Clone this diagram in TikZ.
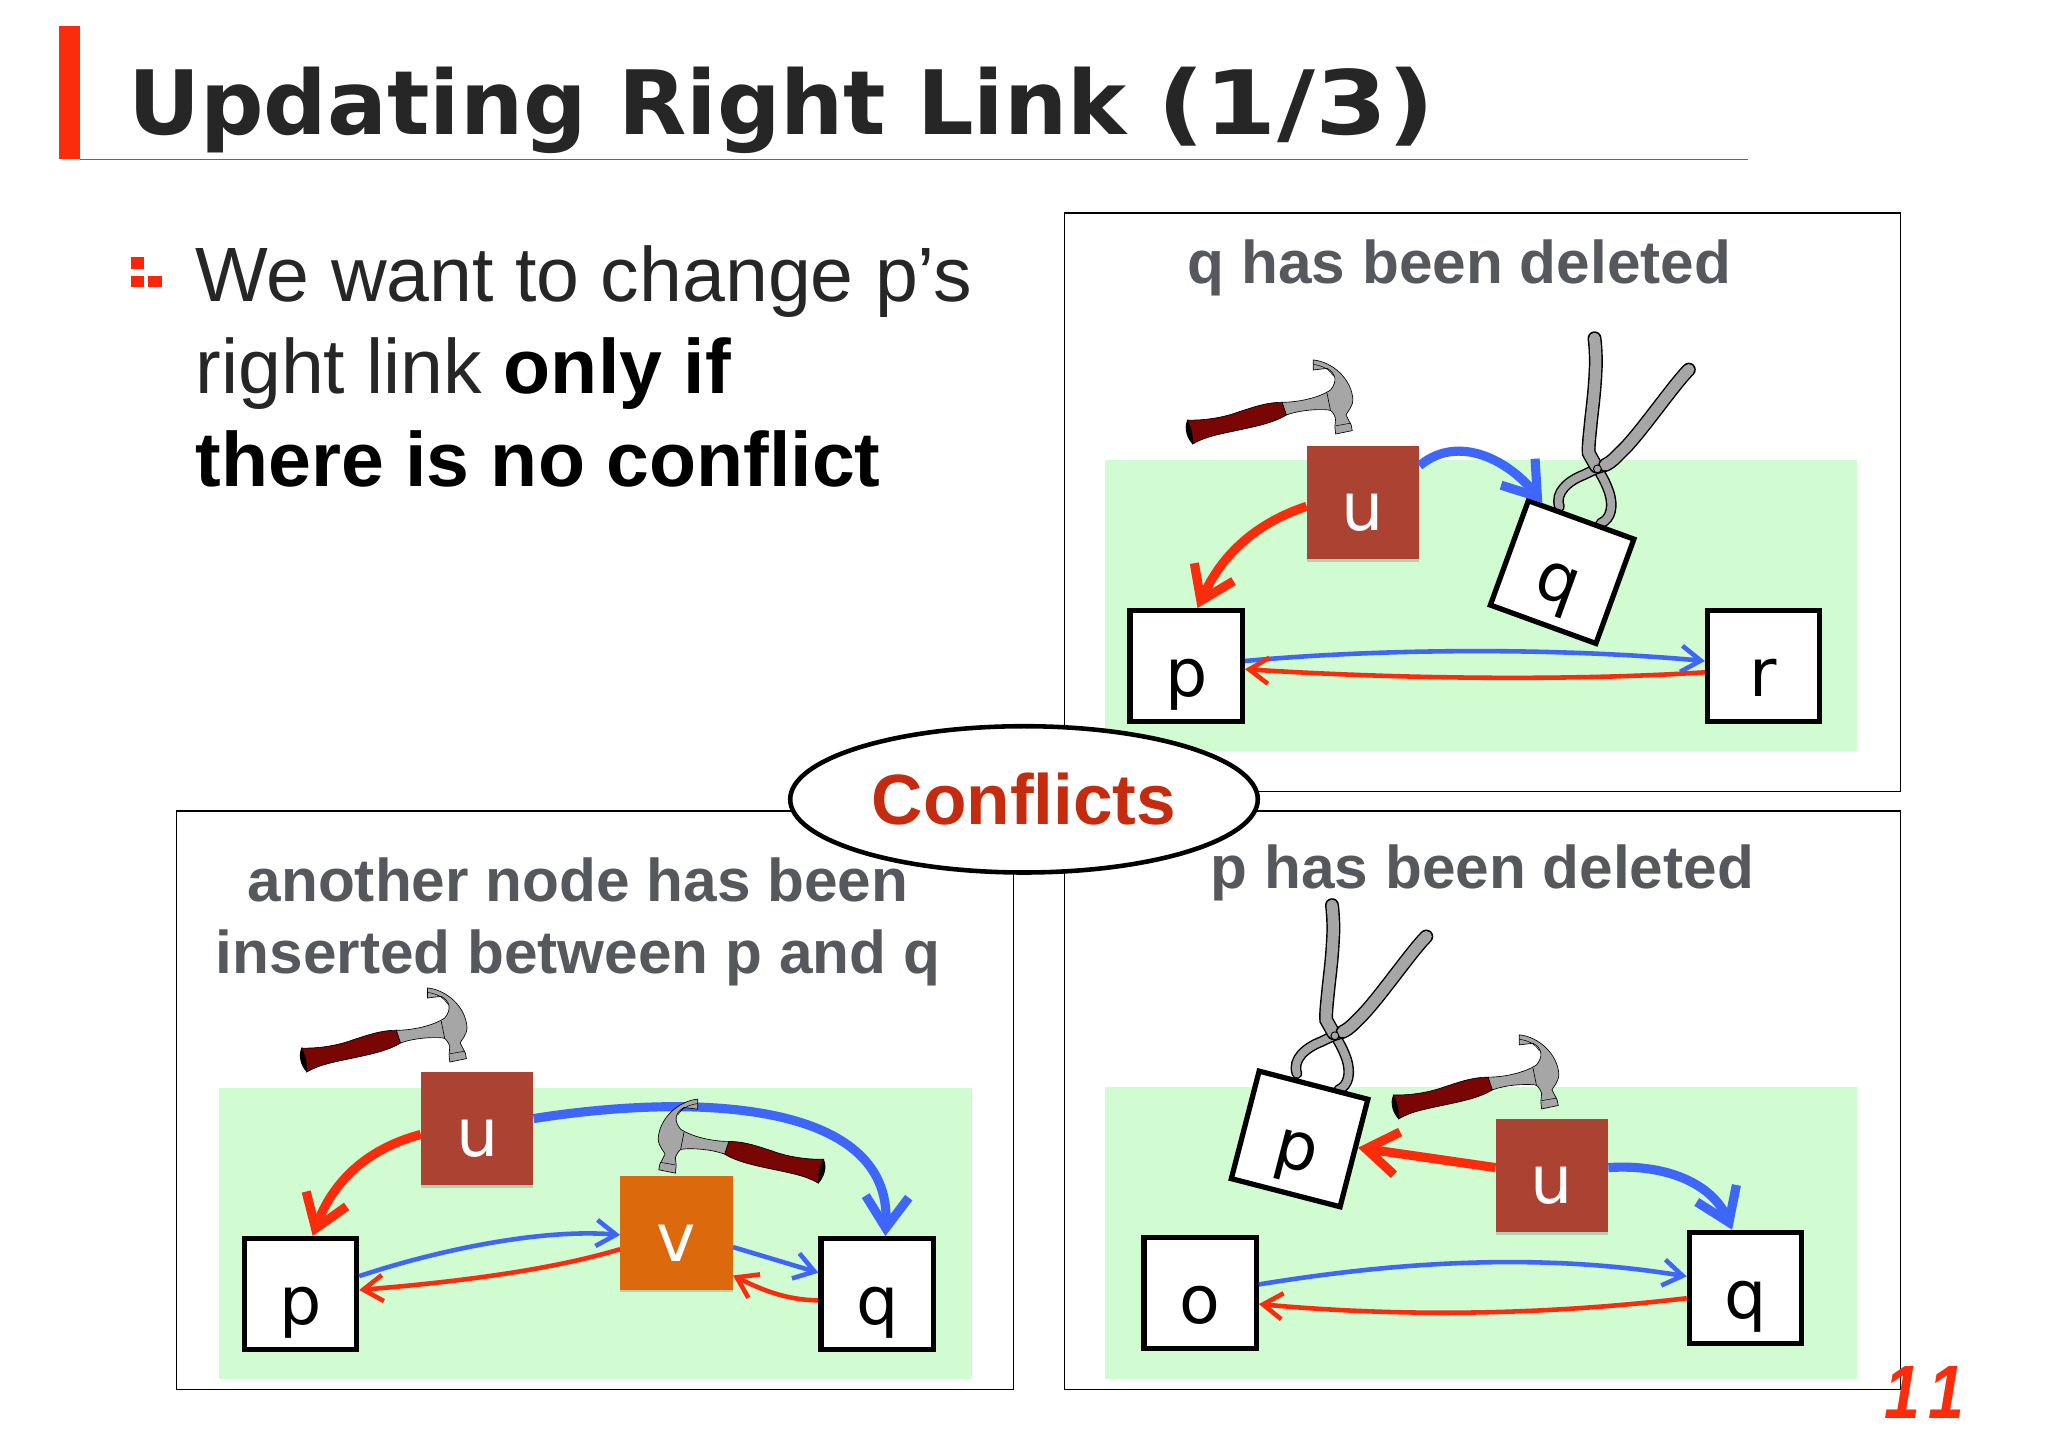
\documentclass[tikz,border=0pt]{standalone}
\usepackage{fontspec}
\setmainfont{Liberation Sans}
\newfontfamily\letterfont{DejaVu Sans}
\newfontfamily\widefont[FakeStretch=1.17]{DejaVu Sans}
\newfontfamily\pagefont[FakeStretch=.85]{Liberation Sans}
\usetikzlibrary{arrows.meta,shapes.geometric,shadows}
\definecolor{barred}{HTML}{FB2C0C}
\definecolor{linkred}{HTML}{FB2C0C}
\definecolor{linkblue}{HTML}{3F66FB}
\definecolor{lawn}{HTML}{D1FBD0}
\definecolor{brick}{HTML}{AB4232}
\definecolor{pumpkin}{HTML}{DC6A0C}
\definecolor{headgray}{HTML}{55585C}
\definecolor{titleink}{HTML}{262626}
\definecolor{conflictred}{HTML}{C52B0E}
\definecolor{handlered}{HTML}{7A0505}
\definecolor{steel}{HTML}{A6A6A6}

\begin{document}
\begin{tikzpicture}[
	x=1pt, y=-1pt,
	letter/.style={font=\letterfont\fontsize{51}{51}\selectfont, text depth=0pt, inner sep=0pt},
	listbox/.style={letter, text height=47pt, rectangle, draw=black, line width=4pt, fill=white, minimum width=86pt, minimum height=85pt},
	workbox/.style={letter, text height=43pt, rectangle, fill=#1, text=white, minimum width=86pt, minimum height=87pt,
	drop shadow={opacity=.35, shadow xshift=0pt, shadow yshift=-2pt}},
	panel/.style={draw=black, line width=1.1pt},
	lawnbox/.style={fill=lawn},
	heading/.style={font=\bfseries\fontsize{46.2}{55}\selectfont, text=headgray, inner sep=0pt, anchor=base},
	fatblue/.style={draw=linkblue, line width=7pt, -{Straight Barb[length=24pt, width=33pt]}},
	fatred/.style={draw=linkred, line width=7pt, -{Straight Barb[length=24pt, width=33pt]}},
	slimblue/.style={draw=linkblue, line width=3.5pt, -{Straight Barb[length=15pt, width=20pt]}},
	slimred/.style={draw=linkred, line width=3.5pt, -{Straight Barb[length=15pt, width=20pt]}},
	hammer/.pic={
		\filldraw[fill=handlered, draw=black, line width=.5pt]
		(-72,7.6) .. controls (-60,8) and (-45,6) .. (-32.3,1.2) .. controls (-22,-2) and (-12,-6) .. (.7,-6) -- (3.9,3.7)
		.. controls (-6,10) and (-22,13) .. (-32.3,15.2) .. controls (-45,18) and (-58,20) .. (-68,26) -- cycle;
		\fill[black] (-72,7.6) .. controls (-75,14) and (-72,22) .. (-68,26) .. controls (-67,20) and (-69,12) .. cycle;
		\filldraw[fill=steel, draw=black, line width=.5pt]
		(.7,-6) .. controls (12,-6) and (28,-9) .. (37.7,-15.4) .. controls (43,-22) and (42,-28) .. (35,-32) -- (24.5,-30.7) -- (24.5,-38.4)
		.. controls (39,-37) and (54,-24) .. (54.8,-7.8) .. controls (54.5,-2) and (50,2) .. (49.5,3.7) -- (53.5,11.4) -- (54.3,15.7) -- (41.6,18.3)
		-- (41,12.7) -- (41.6,6.3) .. controls (40,2) and (38,0) .. (36.4,-.1) .. controls (28,-1) and (14,0) .. (3.9,3.7) -- cycle;
		\draw[black, line width=.5pt] (35,-13) -- (37.6,0);
		\draw[black, line width=.4pt] (24.5,-35) .. controls (32,-34) and (37,-31) .. (40,-26);
		\draw[black, line width=.4pt] (41.6,12) -- (53,10);
	},
	pliers/.pic={
		\draw[double=steel, double distance=6pt, draw=black, line width=1.1pt, line cap=round]
		(0,0) .. controls (4,6) and (7,12) .. (9.2,18.6) .. controls (12,28) and (11,38) .. (2.6,41.6);
		\draw[double=steel, double distance=6pt, draw=black, line width=1.1pt, line cap=round]
		(6,-2) .. controls (-2,0) and (-5,2) .. (-10.6,4.6) .. controls (-22,9) and (-33,18) .. (-29,29);
		\draw[double=steel, double distance=8.5pt, draw=black, line width=1.1pt, line cap=round]
		(-2.2,-100) .. controls (-1,-90) and (-1,-80) .. (-1.4,-75) .. controls (-2,-60) and (-4,-45) .. (-4.8,-37.5) .. controls (-6,-25) and (-7,-18) .. (-6.6,-12) -- (-1,-2);
		\draw[double=steel, double distance=8.5pt, draw=black, line width=1.1pt, line cap=round]
		(70,-76) .. controls (58,-64) and (32,-26) .. (18.5,-13.3) .. controls (14,-9) and (12,-6) .. (6,-3);
		\filldraw[fill=steel, draw=black, line width=.7pt] (0,0) circle (3);
	}
	]
	\useasboundingbox (0,0) rectangle (1568,1107.9);
	\fill[white] (0,0) rectangle (1568,1107.9);
	
	% slide head
	\fill[barred] (45,20) rectangle (61,122);
	\draw[gray!80!black, line width=1pt] (61,122) -- (1338,122);
	\node[font=\letterfont\bfseries\fontsize{68}{68}\selectfont, text=titleink, inner sep=0pt, anchor=base west] (title) at (98,103) {Updating Right Link {\widefont\bfseries (1/3)}};
	
	\fill[barred!85!red] (100,197) rectangle (110,206);
	\fill[barred!85!red] (100,211) rectangle (110,220);
	\fill[barred!85!red] (113,211) rectangle (124,220);
	\node[font=\fontsize{59}{71}\selectfont, align=left, inner sep=0pt, anchor=north west, text=titleink] (body) at (149.5,187.5)
	{We want to change p’s\\right link {\bfseries\color{black} only if}\\{\bfseries\color{black} there is no conflict}};
	
	% q has been deleted
	\draw[panel] (815,163) rectangle (1455,606);
	\node[heading] (headq) at (1117.5,217) {q has been deleted};
	\fill[lawnbox] (846,352) rectangle (1422,575);
	\pic at (981,314) {hammer};
	\pic at (1223,359) {pliers};
	\node[workbox=brick] (u1) at (1043.6,384.6) {u};
	\node[listbox] (p1) at (908.2,510) {p};
	\node[listbox] (r1) at (1350.3,510) {r};
	\node[listbox, rotate=-20] (q1) at (1196,438) {q};
	\draw[fatred] (u1.184) .. controls +(-45,15) and +(16,-35) .. (p1.79);
	\draw[fatblue] (u1.33) .. controls +(30,-25) and +(-25,-32) .. (q1.126);
	\draw[slimblue] (p1.5) .. controls +(110,-10) and +(-110,-10) .. (r1.175);
	\draw[slimred] (r1.186) .. controls +(-110,7) and +(110,7) .. (p1.357);
	
	% another node
	\draw[panel] (135,621) rectangle (776,1064);
	\node[heading] (heada) at (442.5,690) {another node has been};
	\node[heading] (headb) at (442.5,745) {inserted between p and q};
	\fill[lawnbox] (168,833) rectangle (744,1056);
	\pic at (302.8,794.8) {hammer};
	\node[workbox=brick] (u2) at (365.4,864) {u};
	\node[workbox=pumpkin] (v2) at (518,944) {v};
	\node[listbox] (p2) at (230,990.8) {p};
	\node[listbox] (q2) at (671.6,990.8) {q};
	\draw[fatred] (u2.186) .. controls +(-45,12) and +(14,-38) .. (p2.78);
	\draw[fatblue] (u2.10) .. controls +(120,-19) and +(5,-105) .. (q2.82);
	\pic[xscale=-1] at (558.7,879.9) {hammer};
	\draw[slimblue] (p2.17) .. controls +(60,-20) and +(-60,-5) .. (v2.182);
	\draw[slimred] (v2.196) .. controls +(-60,18) and +(60,-5) .. (p2.4);
	\draw[slimblue] (v2.-14) -- (q2.160);
	\draw[slimred] (q2.186) .. controls +(-25,0) and +(20,10) .. (v2.-37);
	
	% p has been deleted
	\draw[panel] (815,621) rectangle (1455,1064);
	\node[heading] (headp) at (1135,680) {p has been deleted};
	\fill[lawnbox] (846,832) rectangle (1422,1056);
	\pic at (1138.7,830.7) {hammer};
	\pic at (1022,793) {pliers};
	\node[workbox=brick] (u3) at (1188.2,900) {u};
	\node[listbox, rotate=-14.5] (p3) at (995,872) {p};
	\node[listbox] (o3) at (918.8,989.7) {o};
	\node[listbox] (q3) at (1336.4,986) {q};
	\draw[fatred] (u3.172) -- (p3.6.6);
	\draw[fatblue] (u3.8) .. controls +(45,-3) and +(-15,-35) .. (q3.103);
	\draw[slimblue] (o3.8.6) .. controls +(110,-18) and +(-110,-18) .. (q3.169);
	\draw[slimred] (q3.190) .. controls +(-110,13) and +(110,10) .. (o3.-11);
	
	% middle label and page number
	\node[ellipse, draw=black, fill=white, line width=3.5pt, minimum width=358pt, minimum height=112pt, inner sep=0pt,
	font=\bfseries\fontsize{54.5}{54}\selectfont, text=conflictred] (conflicts) at (784,612) {Conflicts};
	\node[font=\pagefont\bfseries\itshape\fontsize{58}{58}\selectfont, text=barred, inner sep=0pt, anchor=base east] (pagenum) at (1504,1086) {1\kern6pt 1};
\end{tikzpicture}
\end{document}
